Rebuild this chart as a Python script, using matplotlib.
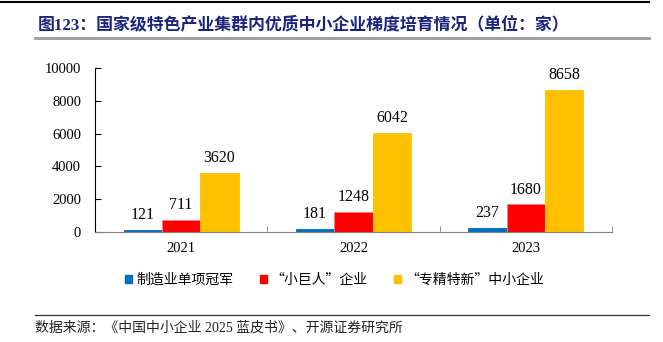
import matplotlib
matplotlib.use("Agg")
import matplotlib.pyplot as plt
import numpy as np
from matplotlib.lines import Line2D
from matplotlib.patches import Rectangle

plt.rcParams['font.family'] = ['Liberation Serif', 'Noto Sans CJK SC', 'DejaVu Sans']

years = ["2021", "2022", "2023"]
series_names = ["制造业单项冠军", "“小巨人”企业", "“专精特新”中小企业"]
champions = [121, 181, 237]
giants = [711, 1248, 1680]
specialized = [3620, 6042, 8658]
colors = ["#0070C0", "#FF0000", "#FFC000"]
yticks = [0, 2000, 4000, 6000, 8000, 10000]

W, H = 663, 342
fig = plt.figure(figsize=(W / 100, H / 100), dpi=100)
ax = fig.add_axes([95 / W, (H - 232) / H, (612 - 95) / W, (232 - 68) / H])

x = np.arange(len(years))
bw = 0.223
handles = []
for i, (vals, c) in enumerate(zip([champions, giants, specialized], colors)):
    ec = "#FF8080" if i == 1 else c
    bars = ax.bar(x + (i - 1) * bw, vals, bw, color=c, edgecolor=ec, linewidth=0.6)
    for b, v in zip(bars, vals):
        ax.annotate(f"{v}", (b.get_x() + b.get_width() / 2, v), xytext=(0, 5),
                    textcoords="offset points", ha="center", va="bottom",
                    fontsize=11.5, family="Liberation Serif")
    handles.append(Rectangle((0, 0), 1, 1, color=c))

ax.set_xlim(-0.5, 2.5)
ax.set_ylim(0, 10000)
ax.set_yticks(yticks)
ax.set_xticks(x)
ax.set_xticklabels(years)
ax.set_xticks([-0.5, 0.5, 1.5, 2.5], minor=True)
ax.tick_params(axis="x", which="major", length=0, pad=7, labelsize=10.5)
ax.tick_params(axis="x", which="minor", direction="in", length=4, color="#808080")
ax.tick_params(axis="y", direction="in", length=4, pad=10, labelsize=10.5)
for s in ["top", "right"]:
    ax.spines[s].set_visible(False)
ax.spines["bottom"].set_color("#808080")
ax.spines["left"].set_color("#000000")
ax.spines["left"].set_linewidth(0.8)

fig.legend(handles, series_names, loc="center", bbox_to_anchor=(334.5 / W, 1 - 280 / H),
           ncol=3, frameon=False, handlelength=0.5, handleheight=0.5,
           handletextpad=0.3, columnspacing=1.9, prop={"family": ["Noto Sans CJK SC"], "size": 10})

# header and footer
fig.add_artist(Line2D([0, 649 / W], [1 - 2 / H, 1 - 2 / H], transform=fig.transFigure,
                      color="black", linewidth=1.5))
fig.text(38 / W, 1 - 25 / H, "图123：国家级特色产业集群内优质中小企业梯度培育情况（单位：家）",
         fontsize=12.2, fontweight="bold", color="#1B237F", va="center", ha="left")
fig.add_artist(Line2D([35 / W, 649 / W], [1 - 38 / H, 1 - 38 / H], transform=fig.transFigure,
                      color="#9A9A9A", linewidth=2))
fig.add_artist(Line2D([35 / W, 649 / W], [1 - 315 / H, 1 - 315 / H], transform=fig.transFigure,
                      color="#333333", linewidth=0.9))
fig.text(35 / W, 1 - 328 / H, "数据来源：《中国中小企业 2025 蓝皮书》、开源证券研究所",
         fontsize=10, va="center", ha="left", color="#222222")

fig.savefig("out.png", dpi=100)
